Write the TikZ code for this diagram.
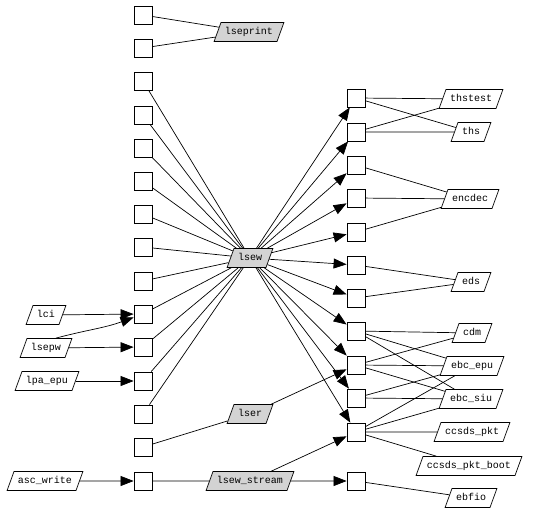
\documentclass[tikz,border=0pt]{standalone}
\usepackage{fontspec}
\setmonofont{Liberation Mono}
\usetikzlibrary{shapes.geometric,arrows.meta}
\definecolor{boxgray}{RGB}{211,211,211}
\begin{document}
\begin{tikzpicture}[x=1pt,y=-1pt,
  sq/.style={draw, line width=0.8pt, minimum size=18pt, inner sep=0pt},
  lbl/.style={draw, trapezium, trapezium left angle=70, trapezium right angle=110,
    inner xsep=4pt, inner ysep=4.5pt, text height=7.5pt, text depth=2.5pt,
    font=\ttfamily\fontsize{10}{10}\selectfont, line width=0.7pt},
  hub/.style={lbl, fill=boxgray},
  ln/.style={line width=0.7pt},
  arr/.style={ln, -{Triangle[length=13pt,width=10pt]}}]
\useasboundingbox (0,0) rectangle (533,513);
% left squares
\foreach \i/\y in {1/15,2/48,3/81,4/115,5/148,6/181,7/214,8/247,9/281,10/314,11/347,12/381,13/414,14/447,15/481}
  \node[sq] (L\i) at (143,\y) {};
% right squares
\foreach \i/\y in {1/98,2/132,3/165,4/198,5/232,6/265,7/298,8/331,9/365,10/398,11/432,12/481}
  \node[sq] (R\i) at (356,\y) {};
% hubs
\node[hub] (lseprint) at (249,32) {lseprint};
\node[hub] (lsew) at (250,258) {lsew};
\node[hub] (lser) at (250,414) {lser};
\node[hub] (lsewstream) at (250,481) {lsew\_stream};
% left labels
\node[lbl] (lci) at (46,315) {lci};
\node[lbl] (lsepw) at (46,348) {lsepw};
\node[lbl] (lpaepu) at (47,381) {lpa\_epu};
\node[lbl] (ascwrite) at (45,481) {asc\_write};
% right labels
\node[lbl] (thstest) at (471,99) {thstest};
\node[lbl] (ths) at (471,132) {ths};
\node[lbl] (encdec) at (470,199) {encdec};
\node[lbl] (eds) at (471,282) {eds};
\node[lbl] (cdm) at (472,333) {cdm};
\node[lbl] (ebcepu) at (472,366) {ebc\_epu};
\node[lbl] (ebcsiu) at (471,399) {ebc\_siu};
\node[lbl] (ccsdspkt) at (472,432) {ccsds\_pkt};
\node[lbl] (ccsdsboot) at (469,466) {ccsds\_pkt\_boot};
\node[lbl] (ebfio) at (471,498) {ebfio};
% left edges
\draw[ln] (L1) -- (lseprint);
\draw[ln] (L2) -- (lseprint);
\foreach \i in {3,...,13} \draw[ln] (L\i) -- (lsew);
\draw[ln] (L14) -- (lser);
\draw[ln] (L15) -- (lsewstream);
\draw[arr] (lci) -- (L10);
\draw[arr] (lsepw.north east) to[out=15,in=200] (L10);
\draw[arr] (lsepw) -- (L11);
\draw[arr] (lpaepu) -- (L12);
\draw[arr] (ascwrite) -- (L15);
% hub to right squares
\foreach \i in {1,...,11} \draw[arr] (lsew) -- (R\i);
\draw[arr] (lser) -- (R9);
\draw[arr] (lsewstream) -- (R11);
\draw[arr] (lsewstream) -- (R12);
% right edges
\draw[ln] (R1) -- (thstest);
\draw[ln] (R1) -- (ths);
\draw[ln] (R2) -- (thstest);
\draw[ln] (R2) -- (ths);
\draw[ln] (R3) -- (encdec);
\draw[ln] (R4) -- (encdec);
\draw[ln] (R5) -- (encdec);
\draw[ln] (R6) -- (eds);
\draw[ln] (R7) -- (eds);
\draw[ln] (R8) -- (cdm);
\draw[ln] (R8) -- (ebcepu);
\draw[ln] (R8) -- (ebcsiu);
\draw[ln] (R9) -- (cdm);
\draw[ln] (R9) -- (ebcepu);
\draw[ln] (R9) -- (ebcsiu);
\draw[ln] (R10) -- (ebcepu);
\draw[ln] (R10) -- (ebcsiu);
\draw[ln] (R11) -- (ebcepu);
\draw[ln] (R11) -- (ebcsiu);
\draw[ln] (R11) -- (ccsdspkt);
\draw[ln] (R11) -- (ccsdsboot);
\draw[ln] (R12) -- (ebfio);
\end{tikzpicture}
\end{document}
